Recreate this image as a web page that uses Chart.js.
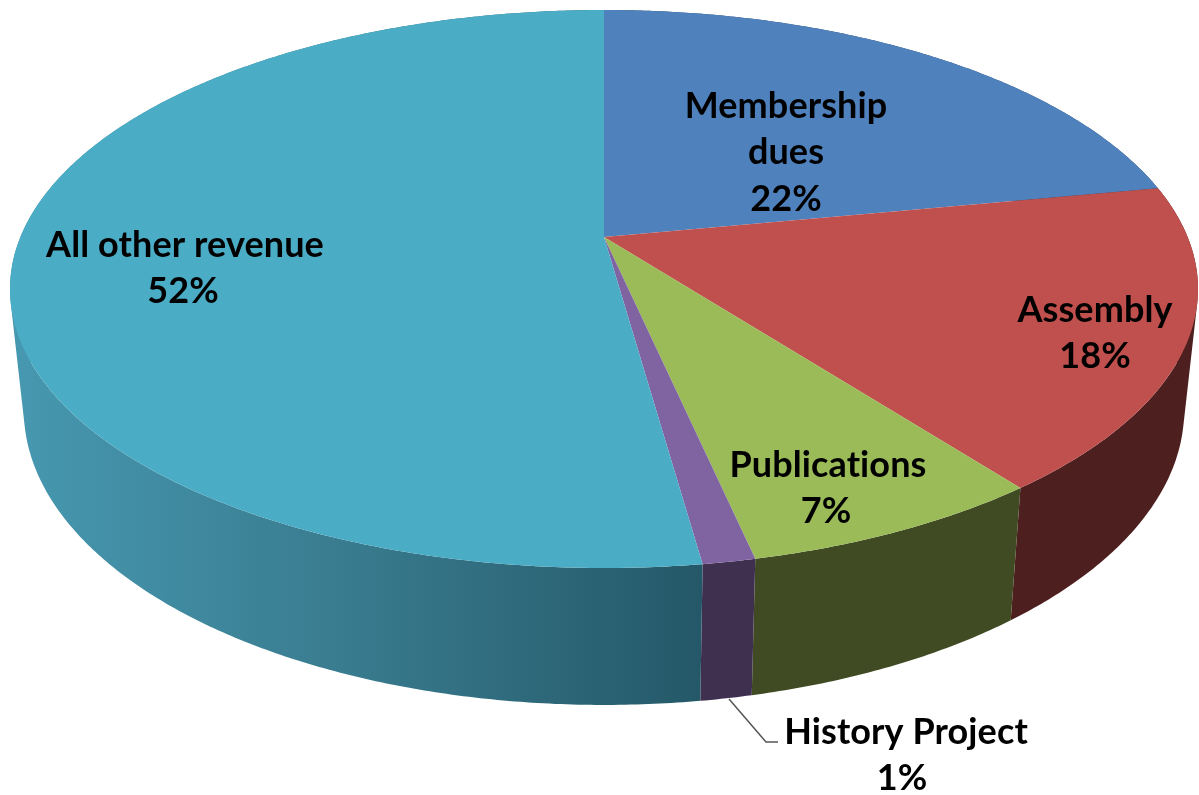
<!DOCTYPE html>
<html><head><meta charset="utf-8">
<style>html,body{margin:0;padding:0;background:#fff}canvas{display:block}</style>
<script src="https://cdn.jsdelivr.net/npm/chart.js@4"></script>
</head><body><canvas id="c" width="1199" height="795"></canvas>
<script>
const categories = ["Membership dues","Assembly","Publications","History Project","All other revenue"];
const values = [22.0,17.6,7.0,1.2,52.2];
const topColors = ["#4f81bd","#c0504d","#9bbb59","#8064a2","#4bacc6"];
const sideColors = ["#2a4564","#4d1f1e","#404a23","#3f3050",null];
const labelLines = [["Membership","dues"],["Assembly"],["Publications"],["History Project"],["All other revenue"]];
const labelCenters = [[786,106],[1095,310],[828,465],[906,732],[185,245]];
const labelPctX = [786,1095,826,902,183];
const lineGap = 46.5;

const K = 0.1864;
const topFace = {ax:604, ay:237, rx:583.6, ry:269.3};
const baseFace = {ax:604, ay:355, rx:570, ry:284.7};
function project(f, a){
  const u=Math.cos(a), v=Math.sin(a), w=1-K*v;
  return [f.ax+f.rx*u/w, f.ay+f.ry*v/w];
}
function arcPts(f,a0,a1){
  const n=Math.max(2,Math.ceil(Math.abs(a1-a0)*120)), p=[];
  for(let i=0;i<=n;i++) p.push(project(f,a0+(a1-a0)*i/n));
  return p;
}
function signedArea(q){
  let s=0;
  q.forEach((p,i)=>{const r=q[(i+1)%q.length];s+=p[0]*r[1]-r[0]*p[1];});
  return s;
}
const pie3d = {
  id:'pie3d',
  beforeDatasetDraw(chart,args){
    const ctx=chart.ctx, arcs=chart.getDatasetMeta(args.index).data;
    const grad=ctx.createLinearGradient(15,0,705,0);
    grad.addColorStop(0,'#4698b0');
    grad.addColorStop(0.45,'#3a7d91');
    grad.addColorStop(1,'#245868');
    arcs.forEach((el,i)=>{
      const t=arcPts(topFace,el.startAngle,el.endAngle), b=arcPts(baseFace,el.startAngle,el.endAngle);
      ctx.fillStyle=sideColors[i]||grad;
      ctx.beginPath();
      for(let j=0;j<t.length-1;j++){
        const q=[t[j],t[j+1],b[j+1],b[j]];
        if(signedArea(q)<0) q.reverse();
        q.forEach((p,m)=>m?ctx.lineTo(p[0],p[1]):ctx.moveTo(p[0],p[1]));
        ctx.closePath();
      }
      ctx.fill('nonzero');
    });
    arcs.forEach((el,i)=>{
      ctx.beginPath();
      ctx.moveTo(topFace.ax,topFace.ay);
      arcPts(topFace,el.startAngle,el.endAngle).forEach(p=>ctx.lineTo(p[0],p[1]));
      ctx.closePath();
      ctx.fillStyle=topColors[i];
      ctx.fill();
    });
    return false;
  },
  afterDraw(chart){
    const ctx=chart.ctx;
    ctx.save();
    ctx.strokeStyle='#555';ctx.lineWidth=1.5;
    ctx.beginPath();ctx.moveTo(729,699);ctx.lineTo(766,742);ctx.lineTo(778,742);ctx.stroke();
    ctx.fillStyle='#000';ctx.textAlign='center';ctx.textBaseline='middle';
    ctx.font='bold 36px Lato';
    ctx.letterSpacing='0.1px';
    labelLines.forEach((lines,i)=>{
      let y=labelCenters[i][1];
      lines.forEach(l=>{ctx.fillText(l,labelCenters[i][0],y);y+=lineGap;});
      ctx.fillText(Math.round(values[i])+'%',labelPctX[i],y);
    });
    ctx.restore();
  }
};
new Chart(document.getElementById('c'),{
  type:'pie',
  data:{labels:categories,datasets:[{data:values,backgroundColor:topColors,borderWidth:0}]},
  options:{responsive:false,animation:false,plugins:{legend:{display:false},tooltip:{enabled:false}}},
  plugins:[pie3d]
});
</script></body></html>
